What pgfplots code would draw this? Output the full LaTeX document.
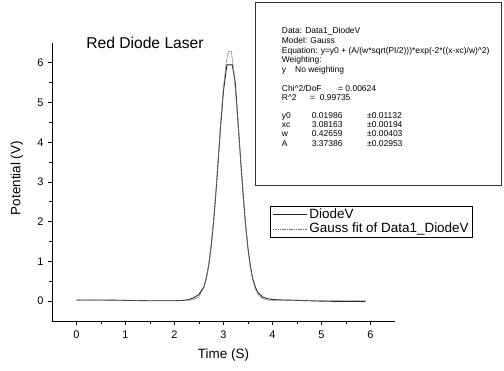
\documentclass[border=0pt]{standalone}
\usepackage{pgfplots}
\pgfplotsset{compat=1.18}
\usepackage{fontspec}
\setmainfont{Liberation Sans}
\definecolor{fitgray}{RGB}{120,120,120}
\begin{document}
\begin{tikzpicture}
\useasboundingbox (-52bp,-50bp) rectangle (452bp,321bp);
\begin{axis}[
  at={(0,0)}, anchor=south west,
  scale only axis, width=343bp, height=278bp,
  xmin=-0.5, xmax=6.5, ymin=-0.5, ymax=6.5,
  axis x line*=bottom, axis y line*=left,
  axis line style={line width=0.9pt},
  xtick={0,1,2,3,4,5,6}, ytick={0,1,2,3,4,5,6},
  minor x tick num=1, minor y tick num=1,
  tick align=outside,
  major tick length=4bp, minor tick length=2.5bp,
  tick style={line width=0.8pt, black},
  /pgf/number format/assume math mode=true,
  ticklabel style={font=\fontsize{11}{12}\selectfont},
  xticklabel style={yshift=-2.5bp},
  yticklabel style={xshift=-1bp},
  xlabel={Time (S)}, ylabel={Potential (V)},
  label style={font=\fontsize{13.5}{15}\selectfont},
  xlabel style={at={(axis description cs:0.5,-0.122)}, anchor=center},
  ylabel style={at={(axis description cs:-0.102,0.514)}, anchor=center, rotate=0},
  legend style={at={(rel axis cs:0.636,0.415)}, anchor=north west,
    draw=black, line width=0.8pt, font=\fontsize{13.5}{15}\selectfont,
    inner xsep=2bp, inner ysep=1bp, row sep=-1bp, cells={anchor=west}},
  legend image code/.code={\draw[#1] (0bp,0bp) -- (34bp,0bp);},
]
\addplot[black!85, line width=0.9pt] coordinates {
(0,0.03) (0.5,0.03) (1.0,0.02) (1.5,0.01) (2.0,0.01) (2.2,0.02)
(2.3,0.04) (2.4,0.09) (2.5,0.17) (2.6,0.36) (2.65,0.58) (2.7,0.92)
(2.75,1.40) (2.8,2.03) (2.85,2.80) (2.9,3.68) (2.95,4.55) (3.0,5.30)
(3.07,5.95) (3.18,5.95) (3.24,5.50) (3.3,4.45) (3.35,3.55) (3.4,2.70)
(3.45,1.93) (3.5,1.32) (3.55,0.87) (3.6,0.55) (3.65,0.35) (3.7,0.22)
(3.8,0.10) (3.9,0.06) (4.0,0.04) (4.2,0.03) (4.5,0.02) (5.0,0.00)
(5.5,-0.01) (5.9,-0.01)
};
\addlegendentry{DiodeV}
\addplot[fitgray, line width=0.7pt, dash pattern=on 1.5pt off 0.8pt] coordinates {
(0,0.02) (0.5,0.02) (1.0,0.02) (1.5,0.02) (2.0,0.02) (2.2,0.02)
(2.3,0.024) (2.4,0.041) (2.5,0.11) (2.6,0.34) (2.65,0.575) (2.7,0.925)
(2.75,1.42) (2.8,2.06) (2.85,2.84) (2.9,3.72) (2.95,4.60) (3.0,5.39)
(3.05,5.98) (3.1,6.28) (3.16,6.29) (3.2,5.88) (3.25,5.24) (3.3,4.43)
(3.35,3.54) (3.4,2.68) (3.45,1.92) (3.5,1.31) (3.55,0.845) (3.6,0.52)
(3.65,0.307) (3.7,0.176) (3.8,0.059) (3.9,0.028) (4.0,0.021) (4.5,0.02)
(5.0,0.02) (5.5,0.02) (5.9,0.02)
};
\addlegendentry{Gauss fit of Data1\_DiodeV}
\end{axis}
\node[font=\fontsize{15.7}{18}\selectfont] at (93bp,278bp) {Red Diode Laser};
\draw[line width=0.8pt, black!80] (203bp,318.3bp) rectangle (449.7bp,136bp);
\begin{scope}[every node/.style={anchor=base west, inner sep=0pt, font=\fontsize{8.5}{10}\selectfont}]
\node at (229.7bp,287.3bp) {Data: Data1\_DiodeV};
\node at (229.7bp,277.6bp) {Model: Gauss};
\node at (229.7bp,267.9bp) {Equation: y=y0 + (A/(w*sqrt(PI/2)))*exp(-2*((x-xc)/w)\textasciicircum 2)};
\node at (229.7bp,258.2bp) {Weighting:};
\node at (229.7bp,248.5bp) {y};
\node at (243bp,248.5bp) {No weighting};
\node at (229.7bp,229bp) {Chi\textasciicircum 2/DoF};
\node at (286bp,229bp) {= 0.00624};
\node at (229.7bp,220bp) {R\textasciicircum 2};
\node at (258bp,220bp) {= \ 0.99735};
\node at (229.7bp,202.3bp) {y0};
\node at (259.7bp,202.3bp) {0.01986};
\node at (315bp,202.3bp) {±0.01132};
\node at (229.7bp,193bp) {xc};
\node at (259.7bp,193bp) {3.08163};
\node at (315bp,193bp) {±0.00194};
\node at (229.7bp,184bp) {w};
\node at (259.7bp,184bp) {0.42659};
\node at (315bp,184bp) {±0.00403};
\node at (229.7bp,174.3bp) {A};
\node at (259.7bp,174.3bp) {3.37386};
\node at (315bp,174.3bp) {±0.02953};
\end{scope}
\end{tikzpicture}
\end{document}
